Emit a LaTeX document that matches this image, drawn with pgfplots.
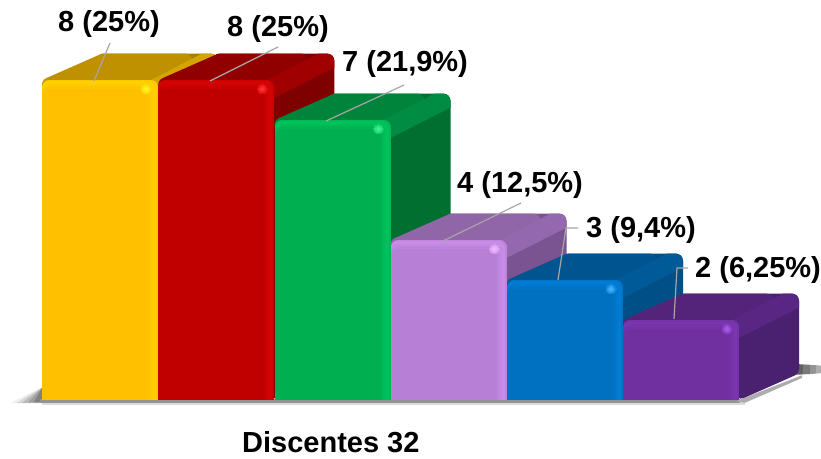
\documentclass[border=0pt]{standalone}
\usepackage{fontspec}
\setmainfont{Liberation Sans}
\usepackage{pgfplots}
\pgfplotsset{compat=1.18}

% face colours of the six columns: front, bevel, top, ridge, side, spot
\definecolor{yF}{HTML}{FFC000}\definecolor{yB}{HTML}{FFD000}\definecolor{yT}{HTML}{BF9000}\definecolor{yR}{HTML}{D6A400}\definecolor{yS}{HTML}{A87E00}\definecolor{yH}{HTML}{FFF020}
\definecolor{rF}{HTML}{C00000}\definecolor{rB}{HTML}{D40404}\definecolor{rT}{HTML}{900000}\definecolor{rR}{HTML}{A00000}\definecolor{rS}{HTML}{7F0000}\definecolor{rH}{HTML}{FF3030}
\definecolor{gF}{HTML}{00B050}\definecolor{gB}{HTML}{00C25A}\definecolor{gT}{HTML}{00843C}\definecolor{gR}{HTML}{008C42}\definecolor{gS}{HTML}{006F30}\definecolor{gH}{HTML}{40F090}
\definecolor{lF}{HTML}{B77FD6}\definecolor{lB}{HTML}{C88CE6}\definecolor{lT}{HTML}{9066A8}\definecolor{lR}{HTML}{9468AE}\definecolor{lS}{HTML}{7A5490}\definecolor{lH}{HTML}{F0B8FF}
\definecolor{bF}{HTML}{0070C0}\definecolor{bB}{HTML}{007CD2}\definecolor{bT}{HTML}{00548F}\definecolor{bR}{HTML}{005A98}\definecolor{bS}{HTML}{004F87}\definecolor{bH}{HTML}{40B0F8}
\definecolor{pF}{HTML}{7030A0}\definecolor{pB}{HTML}{7A36AE}\definecolor{pT}{HTML}{54247A}\definecolor{pR}{HTML}{5A2684}\definecolor{pS}{HTML}{4A2070}\definecolor{pH}{HTML}{A858E8}

\pgfplotsset{soft/.style={draw=#1,fill=#1,line width=14pt,line join=round}}

% one nested layer of a front face: left edge, value, right inset, top inset (px), colour
\newcommand{\frontlayer}[5]{%
  \pgfmathsetmacro\Xa{#1+7}\pgfmathsetmacro\Xb{#1+116-#3-7}\pgfmathsetmacro\Xc{#1+116-#3}%
  \pgfmathsetmacro\Yh{#2/2}\pgfmathsetmacro\Yt{#2-#4/40-0.175}%
  \addplot[soft=#5] coordinates {(\Xa,\Yh)(\Xb,\Yh)(\Xb,\Yt)(\Xa,\Yt)} --cycle;
  \addplot[draw=none,fill=#5] coordinates {(#1,0)(\Xc,0)(\Xc,\Yh)(#1,\Yh)} --cycle;
}

% one column: left edge, value, prefix of its colour names
\newcommand{\column}[3]{%
  \pgfmathsetmacro\R{#1+116}\pgfmathsetmacro\RR{#1+176}\pgfmathsetmacro\T{#2+0.66}%
  % outline of side and back, inset by the stroke radius
  \pgfmathsetmacro\Xa{#1+118}\pgfmathsetmacro\Xb{#1+169}\pgfmathsetmacro\Xd{#1+61.4}%
  \pgfmathsetmacro\Ya{#2-0.2}\pgfmathsetmacro\Yb{\T-0.175}%
  \addplot[soft=#3S] coordinates {(\Xa,0.21)(\Xb,0.774)(\Xb,\Yb)(\Xd,\Yb)(\Xa,\Ya)} --cycle;
  % top face
  \pgfmathsetmacro\Xc{#1+7}\pgfmathsetmacro\Xe{#1+143}\pgfmathsetmacro\Xf{#1+109}%
  \pgfmathsetmacro\Yc{#2-0.115}\pgfmathsetmacro\Yd{#2+0.1}%
  \addplot[soft=#3T] coordinates {(\Xc,\Yc)(\Xd,\Yb)(\Xe,\Yb)(\Xf,\Yd)} --cycle;
  % ridge between top and side
  \pgfmathsetmacro\Xg{#1+109}\pgfmathsetmacro\Xi{#1+160}\pgfmathsetmacro\Xj{#1+169}\pgfmathsetmacro\Xk{#1+174}%
  \pgfmathsetmacro\Yf{\T-0.05}\pgfmathsetmacro\Yg{\T-0.35}\pgfmathsetmacro\Yh{#2-0.45}%
  \addplot[draw=none,fill=#3R] coordinates {(\Xg,#2)(\Xi,\T)(\Xj,\T)(\Xk,\Yf)(\RR,\Yb)(\RR,\Yg)(\R,\Yh)(\Xg,\Yh)} --cycle;
  % front face, bevel fading inwards
  \frontlayer{#1}{#2}{0}{0}{#3B!45!#3F}
  \frontlayer{#1}{#2}{2}{1.5}{#3B}
  \frontlayer{#1}{#2}{5}{4}{#3B!70!#3F}
  \frontlayer{#1}{#2}{7.5}{6.5}{#3B!35!#3F}
  \frontlayer{#1}{#2}{10}{9}{#3F}
  % glint at the upper right corner
  \pgfmathsetmacro\Xl{#1+104}\pgfmathsetmacro\Yi{#2-0.225}%
  \addplot[only marks,mark=*,mark size=5pt,mark options={line width=0pt,draw=#3H!25!#3B,fill=#3H!25!#3B}] coordinates {(\Xl,\Yi)};
  \addplot[only marks,mark=*,mark size=3.8pt,mark options={line width=0pt,draw=#3H!50!#3B,fill=#3H!50!#3B}] coordinates {(\Xl,\Yi)};
  \addplot[only marks,mark=*,mark size=2.6pt,mark options={line width=0pt,draw=#3H!75!#3B,fill=#3H!75!#3B}] coordinates {(\Xl,\Yi)};
  \addplot[only marks,mark=*,mark size=1.4pt,mark options={line width=0pt,draw=#3H,fill=#3H}] coordinates {(\Xl,\Yi)};
}

\begin{document}
\begin{tikzpicture}
\begin{axis}[
  width=821pt,height=458pt,scale only axis,
  xmin=0,xmax=821,ymin=-1.45,ymax=10,
  axis lines=none,clip=false,
  every axis plot/.append style={forget plot},
]
  % floor shadow, darkening towards the columns
  \addplot[draw=none,fill=black!6] coordinates {(10,-0.08)(42,0.32)(42,-0.08)} --cycle;
  \addplot[draw=none,fill=black!16] coordinates {(16,-0.08)(42,0.31)(42,-0.08)} --cycle;
  \addplot[draw=none,fill=black!27] coordinates {(22,-0.07)(42,0.3)(42,-0.07)} --cycle;
  \addplot[draw=none,fill=black!38] coordinates {(28,-0.06)(42,0.3)(42,-0.06)} --cycle;
  \addplot[draw=none,fill=black!50] coordinates {(34,-0.05)(42,0.3)(42,-0.05)} --cycle;
  \addplot[draw=none,fill=black!14] coordinates {(42,0)(745,0)(745,-0.12)(42,-0.12)} --cycle;
  \addplot[draw=none,fill=black!42] coordinates {(40,0.03)(740,0.03)(740,-0.07)(40,-0.07)} --cycle;
  \addplot[draw=none,fill=black!32] coordinates {(736,-0.03)(802,0.62)(802,0.55)(745,-0.07)} --cycle;
  \addplot[draw=none,fill=black!62] coordinates {(795,0.9)(803,0.89)(803,0.64)(795,0.63)} --cycle;
  \addplot[draw=none,fill=black!52] coordinates {(803,0.89)(810,0.88)(810,0.65)(803,0.64)} --cycle;
  \addplot[draw=none,fill=black!42] coordinates {(810,0.88)(816,0.87)(816,0.66)(810,0.65)} --cycle;
  \addplot[draw=none,fill=black!32] coordinates {(816,0.87)(821,0.86)(821,0.67)(816,0.66)} --cycle;

  \column{42}{8}{y}
  \column{158.3}{8}{r}
  \column{274.5}{7}{g}
  \column{390.5}{4}{l}
  \column{507}{3}{b}
  \column{623}{2}{p}

  % leader lines from the labels to the columns
  \addplot[draw=black!35,line width=1.2pt] coordinates {(110,8.925)(94,7.975)};
  \addplot[draw=black!35,line width=1.2pt] coordinates {(278,8.825)(210,7.975)};
  \addplot[draw=black!35,line width=1.2pt] coordinates {(404,7.875)(326,6.975)};
  \addplot[draw=black!35,line width=1.2pt] coordinates {(521,4.925)(443,3.975)};
  \addplot[draw=black!35,line width=1.2pt] coordinates {(578,4.3)(566,4.3)(558,3)};
  \addplot[draw=black!35,line width=1.2pt] coordinates {(688,3.3)(677,3.3)(674,2.025)};

  % value labels
  \tikzset{lab/.style={anchor=base west,inner sep=0pt,font=\fontsize{29}{32}\selectfont\bfseries}}
  \node[lab] at (axis cs:58,9.2) {8 (25\%)};
  \node[lab] at (axis cs:227,9.075) {8 (25\%)};
  \node[lab] at (axis cs:342,8.2) {7 (21,9\%)};
  \node[lab] at (axis cs:457,5.175) {4 (12,5\%)};
  \node[lab] at (axis cs:586,4.05) {3 (9,4\%)};
  \node[lab] at (axis cs:695,3.05) {2 (6,25\%)};
  \node[lab] at (axis cs:242,-1.31) {Discentes 32};
\end{axis}
\pgfresetboundingbox
\path[use as bounding box] (0,0) rectangle (821pt,458pt);
\end{tikzpicture}
\end{document}
